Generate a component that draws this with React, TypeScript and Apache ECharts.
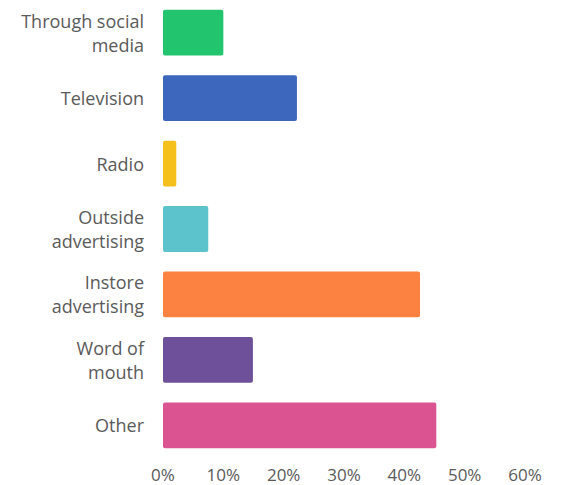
import React, { useEffect, useRef } from "react";
import * as echarts from "echarts";

const categories = [
  "Through social\nmedia",
  "Television",
  "Radio",
  "Outside\nadvertising",
  "Instore\nadvertising",
  "Word of\nmouth",
  "Other",
];
const values = [10, 22.2, 2.2, 7.5, 42.6, 14.9, 45.3];
const colors = ["#22c46e", "#3d66bd", "#f6c01c", "#5cc3cd", "#fb8240", "#6e4f9a", "#dc5391"];
const ticks = [0, 10, 20, 30, 40, 50, 60];

export default function App() {
  const ref = useRef<HTMLDivElement>(null);
  useEffect(() => {
    document.body.style.margin = "0";
    const chart = echarts.init(ref.current!, undefined, { renderer: "svg" });
    chart.setOption({
      animation: false,
      backgroundColor: "#ffffff",
      grid: { left: 163, right: 54, top: -2, height: 460, containLabel: false },
      xAxis: {
        type: "value",
        min: ticks[0],
        max: ticks[ticks.length - 1],
        interval: 10,
        splitLine: { show: false },
        axisLine: { show: false },
        axisTick: { show: false },
        axisLabel: {
          formatter: "{value}%",
          fontSize: 17,
          color: "#5a5a5a",
          fontFamily: "Open Sans",
          margin: 8,
        },
      },
      yAxis: {
        type: "category",
        inverse: true,
        data: categories,
        axisLine: { show: false },
        axisTick: { show: false },
        axisLabel: {
          fontSize: 18,
          color: "#5a5a5a",
          fontFamily: "Open Sans",
          margin: 19,
          lineHeight: 24,
          align: "right",
        },
      },
      series: [
        {
          type: "bar",
          barCategoryGap: "30%",
          data: values.map((v, i) => ({ value: v, itemStyle: { color: colors[i] } })),
          itemStyle: { borderRadius: 2 },
        },
      ],
    });
    return () => chart.dispose();
  }, []);
  return <div ref={ref} style={{ width: 579, height: 485 }} />;
}
